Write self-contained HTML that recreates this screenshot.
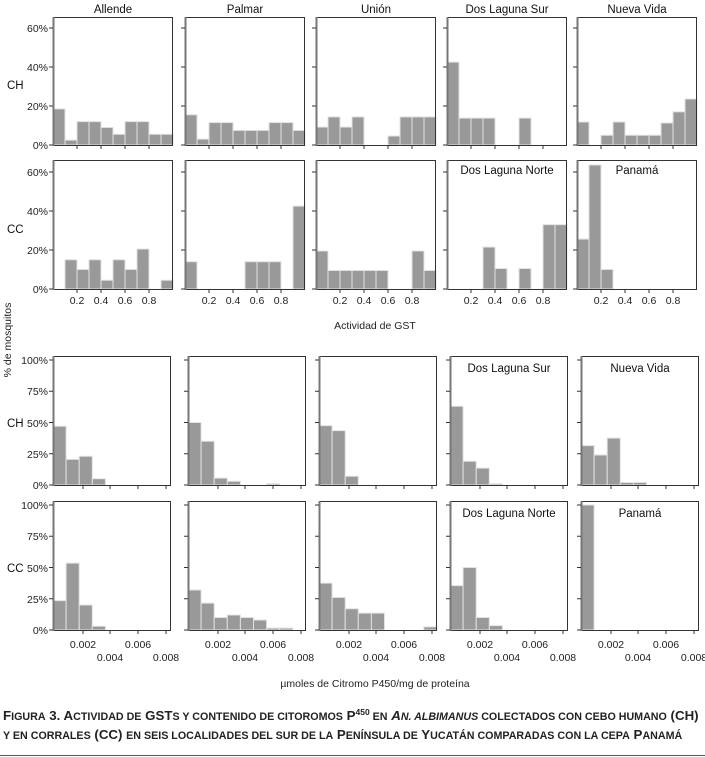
<!DOCTYPE html>
<html><head><meta charset="utf-8"><style>
body{margin:0;background:#fff;}
svg{display:block;font-family:"Liberation Sans",sans-serif;}
.t{font-size:10.5px;fill:#222;}
.h{font-size:11.5px;fill:#111;}
.cap{font-size:13.3px;font-weight:bold;fill:#222;}
</style></head><body>
<svg id="s" width="705" height="757" viewBox="0 0 705 757" xmlns="http://www.w3.org/2000/svg">
<g id="g"></g>
<text class="h" x="113" y="13" text-anchor="middle">Allende</text>
<text class="h" x="245" y="13" text-anchor="middle">Palmar</text>
<text class="h" x="376" y="13" text-anchor="middle">Unión</text>
<text class="h" x="507" y="13" text-anchor="middle">Dos Laguna Sur</text>
<text class="h" x="637" y="13" text-anchor="middle">Nueva Vida</text>
<text class="h" x="507" y="174" text-anchor="middle">Dos Laguna Norte</text>
<text class="h" x="637" y="174" text-anchor="middle">Panamá</text>
<text class="h" x="509" y="372" text-anchor="middle">Dos Laguna Sur</text>
<text class="h" x="640" y="372" text-anchor="middle">Nueva Vida</text>
<text class="h" x="509" y="517" text-anchor="middle">Dos Laguna Norte</text>
<text class="h" x="640" y="517" text-anchor="middle">Panamá</text>
<text class="t" x="48" y="32" text-anchor="end">60%</text>
<text class="t" x="48" y="71" text-anchor="end">40%</text>
<text class="t" x="48" y="110" text-anchor="end">20%</text>
<text class="t" x="48" y="149" text-anchor="end">0%</text>
<text class="t" x="48" y="176" text-anchor="end">60%</text>
<text class="t" x="48" y="215" text-anchor="end">40%</text>
<text class="t" x="48" y="254" text-anchor="end">20%</text>
<text class="t" x="48" y="293" text-anchor="end">0%</text>
<text class="t" x="48" y="364" text-anchor="end">100%</text>
<text class="t" x="48" y="395" text-anchor="end">75%</text>
<text class="t" x="48" y="427" text-anchor="end">50%</text>
<text class="t" x="48" y="458" text-anchor="end">25%</text>
<text class="t" x="48" y="489" text-anchor="end">0%</text>
<text class="t" x="48" y="509" text-anchor="end">100%</text>
<text class="t" x="48" y="540" text-anchor="end">75%</text>
<text class="t" x="48" y="572" text-anchor="end">50%</text>
<text class="t" x="48" y="603" text-anchor="end">25%</text>
<text class="t" x="48" y="634" text-anchor="end">0%</text>
<text class="h" x="7" y="89">CH</text>
<text class="h" x="7" y="233">CC</text>
<text class="h" x="7" y="427">CH</text>
<text class="h" x="7" y="572">CC</text>
<text class="t" transform="translate(11,340) rotate(-90)" text-anchor="middle">% de mosquitos</text>
<text class="t" x="375" y="329" text-anchor="middle">Actividad de GST</text>
<text class="t" x="375" y="687" text-anchor="middle">µmoles de Citromo P450/mg de proteína</text>
<text class="cap" x="3" y="720">F<tspan font-size="10.7">IGURA</tspan> 3. A<tspan font-size="10.7">CTIVIDAD DE</tspan> GST<tspan font-size="10.7">S Y CONTENIDO DE CITOROMOS</tspan> P<tspan font-size="8.5" dy="-5">450</tspan><tspan font-size="10.7" dy="5"> EN</tspan> <tspan font-style="italic">A<tspan font-size="10.7">N. ALBIMANUS</tspan></tspan><tspan font-size="10.7"> COLECTADOS CON CEBO HUMANO</tspan> (CH)</text>
<text class="cap" x="3" y="739"><tspan font-size="10.7">Y EN CORRALES</tspan> (CC) <tspan font-size="10.7">EN SEIS LOCALIDADES DEL SUR DE LA</tspan> P<tspan font-size="10.7">ENÍNSULA DE</tspan> Y<tspan font-size="10.7">UCATÁN COMPARADAS CON LA CEPA</tspan> P<tspan font-size="10.7">ANAMÁ</tspan></text>
<line x1="0" y1="755.5" x2="705" y2="755.5" stroke="#555" stroke-width="1"/>
</svg>
<script>
(function(){
var g=document.getElementById('g'),NS='http://www.w3.org/2000/svg';
function el(n,a){var e=document.createElementNS(NS,n);for(var k in a)e.setAttribute(k,a[k]);g.appendChild(e);return e;}
var gst=[
 [[18.5,2.5,12,12,9,5.5,12,12,5.5,5.5],[15.5,3,11.5,11.5,7.5,7.5,7.5,11.5,11.5,7.5],[9.2,14.4,9.2,14.4,0,0,4.6,14.4,14.4,14.4],[42.5,13.8,13.8,13.8,0,0,13.8,0,0,0],[11.8,0,5,11.8,5,5,5,11.3,17,23.6]],
 [[0,15,10,15,4.5,15,10,20.5,0,4.5],[14,0,0,0,0,14,14,14,0,42.5],[19.5,9.5,9.5,9.5,9.5,9.5,0,0,19.5,9.5],[0,0,0,21.5,10.5,0,10.5,0,33,33],[25.6,63.6,10,0,0,0,0,0,0,0]]];
var tl=[53,185,316,447,577],tw=120;
var rows=[[17,145],[160,289]];
gst.forEach(function(r,ri){r.forEach(function(d,pi){
 var x0=tl[pi],y0=rows[ri][1],yt=rows[ri][0];
 d.forEach(function(v,i){if(v>0)el('rect',{x:x0+i*12,y:y0-v*1.95,width:12,height:v*1.95,fill:'#999',stroke:'#e2e2e2','stroke-width':1});});
 el('rect',{x:x0+0.5,y:yt+0.5,width:tw-1,height:y0-yt,fill:'none',stroke:'#333','stroke-width':1});
 el('line',{x1:x0+0.5,y1:yt,x2:x0+0.5,y2:y0+1,stroke:'#777','stroke-width':2});
 [0,20,40,60].forEach(function(p){var y=y0-p*1.95;el('line',{x1:x0-4,y1:y,x2:x0,y2:y,stroke:'#333'});});
 [0.2,0.4,0.6,0.8].forEach(function(p){var x=x0+p*120;el('line',{x1:x,y1:y0,x2:x,y2:y0+4,stroke:'#333'});
  if(ri==1){var t=el('text',{x:x,y:y0+15,'text-anchor':'middle','class':'t'});t.textContent=p.toFixed(1);}});
});});
var bot=[
 [[47,20.5,23,5,0,0,0,0,0],[50,35,5.5,3,0,0,1,0,0],[47.5,43.5,7,0,0,0,0,0,0],[63,19,13.5,1,0,0,0,0,0],[31.5,24,37.5,2,2,0,0,0,0]],
 [[23.5,53.5,20,3,0,0,0,0,0],[32,21.5,10,12,10,8,1.5,1.5,0],[37.5,26,17,13.5,13.5,0,0,0,2.5],[35.5,50,10,3.5,0,0,0,0,0],[100,0,0,0,0,0,0,0,0]]];
var bl=[53,188,319,450,581],bw=118;
var brow=[[356,485],[501,630]];
bot.forEach(function(r,ri){r.forEach(function(d,pi){
 var x0=bl[pi],y0=brow[ri][1],yt=brow[ri][0];
 d.forEach(function(v,i){if(v>0)el('rect',{x:x0+i*13.1,y:y0-v*1.25,width:13.1,height:v*1.25,fill:'#999',stroke:'#e2e2e2','stroke-width':1});});
 el('rect',{x:x0+0.5,y:yt+0.5,width:bw-1,height:y0-yt,fill:'none',stroke:'#333','stroke-width':1});
 el('line',{x1:x0+0.5,y1:yt,x2:x0+0.5,y2:y0+1,stroke:'#777','stroke-width':2});
 [0,25,50,75,100].forEach(function(p){var y=y0-p*1.25;el('line',{x1:x0-4,y1:y,x2:x0,y2:y,stroke:'#333'});});
 [[30,'0.002',0],[57,'0.004',1],[85,'0.006',0],[113,'0.008',1]].forEach(function(q){var x=x0+q[0];el('line',{x1:x,y1:y0,x2:x,y2:y0+4,stroke:'#333'});
  if(ri==1){var t=el('text',{x:x,y:y0+(q[2]?31:18),'text-anchor':'middle','class':'t'});t.textContent=q[1];}});
});});
})();
</script>
</body></html>
